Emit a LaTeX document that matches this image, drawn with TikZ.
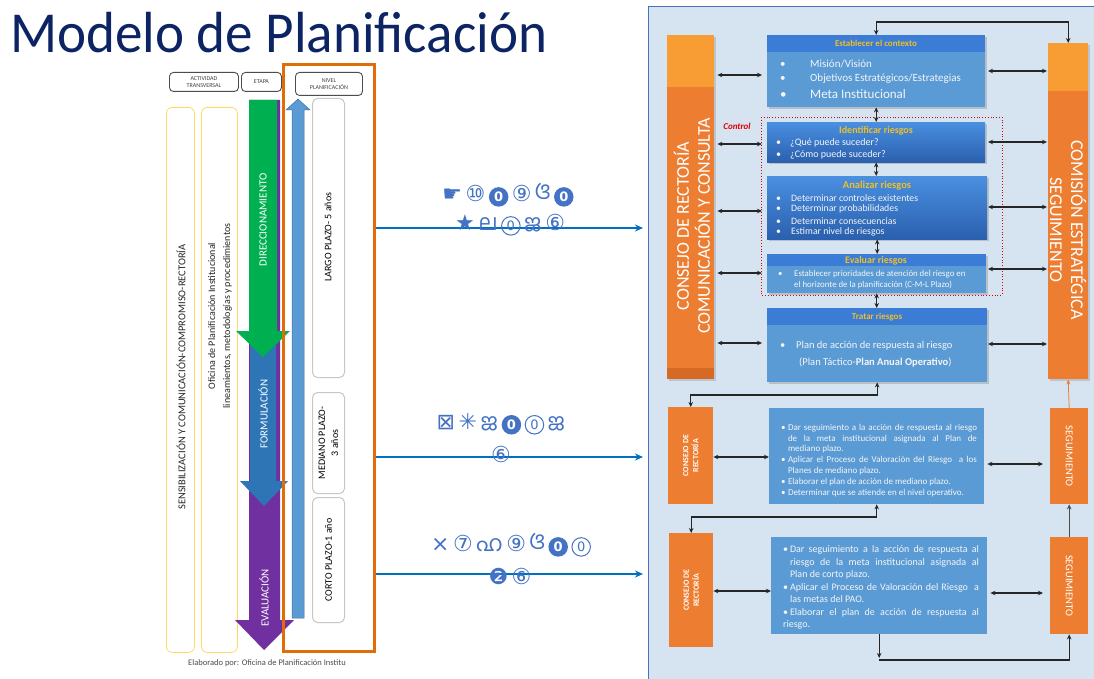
\documentclass[tikz,border=0pt]{standalone}
\usepackage{fontspec}
\setmainfont{Carlito}
\newfontfamily\dejavu{DejaVu Sans}
\newfontfamily\orifont[Script=Oriya]{Noto Sans Oriya UI}
\newfontfamily\malfont[Script=Malayalam]{Hind Kochi}
\usetikzlibrary{arrows.meta,shadows}
\definecolor{navy}{RGB}{12,36,100}
\definecolor{orng}{RGB}{227,108,10}
\definecolor{obar}{RGB}{237,125,49}
\definecolor{obarl}{RGB}{248,156,52}
\definecolor{obard}{RGB}{214,106,36}
\definecolor{panelc}{RGB}{214,227,240}
\definecolor{pborder}{RGB}{68,114,196}
\definecolor{bbody}{RGB}{91,155,213}
\definecolor{bhead}{RGB}{58,124,214}
\definecolor{btop}{RGB}{74,143,224}
\definecolor{bbot}{RGB}{42,96,174}
\definecolor{gold}{RGB}{240,192,40}
\definecolor{grn}{RGB}{0,176,80}
\definecolor{purp}{RGB}{112,48,160}
\definecolor{fblue}{RGB}{46,117,182}
\definecolor{lblue}{RGB}{91,155,213}
\definecolor{arrblue}{RGB}{0,112,192}
\definecolor{ylw}{RGB}{255,217,102}
\definecolor{symc}{RGB}{68,114,196}
\definecolor{txtw}{RGB}{245,245,245}
\newcommand\bitem[1]{\par\noindent\hangindent=7pt\hangafter=1\makebox[7pt][l]{\textbullet}#1}
\newcommand\gp{\hspace{3.5pt}}
\newcommand\czero{\tikz[baseline=(z.base)]\node[circle,draw=symc,line width=1pt,inner sep=0pt,minimum size=18.5pt,text=symc,font=\dejavu\fontsize{13}{13}\selectfont](z){0};}
\newcommand\fzero{\tikz[baseline=(z.base)]\node[circle,fill=symc,inner sep=0pt,minimum size=19.5pt,text=white,font=\dejavu\bfseries\fontsize{13}{13}\selectfont](z){0};}
\tikzset{
  dbl/.style={{Stealth[length=5pt,width=4.5pt]}-{Stealth[length=5pt,width=4.5pt]}, line width=1.1pt, black!85},
  sgl/.style={-{Stealth[length=5pt,width=4.5pt]}, line width=1.1pt, black!85},
  bluearr/.style={-{Stealth[length=8pt,width=7pt]}, line width=1.8pt, arrblue},
  hdrbox/.style={draw=black!70, line width=0.9pt, rounded corners=4pt, fill=white, align=center, font=\fontsize{6}{7}\selectfont, text=black!75, inner sep=0pt, anchor=north west},
  ycol/.style={draw=ylw, line width=0.8pt, rounded corners=6pt, inner sep=0pt, anchor=north west},
  gbox/.style={draw=black!22, line width=1pt, rounded corners=5pt, fill=white, inner sep=0pt, anchor=north west},
  box/.style={inner sep=0pt, anchor=north west, drop shadow={shadow xshift=1.5pt, shadow yshift=-1.5pt, opacity=0.35}},
  obox/.style={fill=obar, inner sep=0pt, anchor=north west},
  ttl/.style={text=gold, font=\bfseries\fontsize{10}{11}\selectfont, inner sep=0pt},
  wt/.style={text=txtw, anchor=west, inner sep=0pt},
  sym/.style={text=symc, font=\fontsize{22}{24}\selectfont, inner sep=0pt},
}
\begin{document}
\begin{tikzpicture}[x=1pt,y=-1pt]
\useasboundingbox (0,0) rectangle (1094,679);
\fill[white] (0,0) rectangle (1094,679);

% title
\node[anchor=base west, text=navy, inner sep=0pt] (title) at (10,53) {\scalebox{0.95}[1]{\fontsize{58}{60}\selectfont Modelo de Planificación}};

% ---------- left part ----------
\node[hdrbox, minimum width=69pt, minimum height=19pt] (hA) at (169,72) {ACTIVIDAD\\TRANSVERSAL};
\node[hdrbox, minimum width=40pt, minimum height=19pt] (hE) at (241,72) {ETAPA};
\node[hdrbox, minimum width=67pt, minimum height=23pt] (hN) at (295,72) {NIVEL\\PLANIFICACIÓN};

\node[ycol, minimum width=28pt, minimum height=545pt] (c1) at (166,107) {};
\node[ycol, minimum width=36pt, minimum height=545pt] (c2) at (201,107) {};
\node[rotate=90, font=\fontsize{10.5}{12}\selectfont, text=black!85, inner sep=0pt] (t1) at (181,377) {SENSIBILIZACIÓN Y COMUNICACIÓN-COMPROMISO-RECTORÍA};
\node[rotate=90, align=center, font=\fontsize{10}{15}\selectfont, text=black!85, inner sep=0pt] (t2) at (220,316) {Oficina de Planificación Institucional\\lineamientos, metodologías y procedimientos};

% stage arrows
\fill[purp] (249,100) -- (280,100) -- (280,620) -- (294,620) -- (264,650) -- (235,620) -- (249,620) -- cycle;
\fill[fblue] (250,340) -- (276,340) -- (276,481) -- (288,481) -- (264,506) -- (240,481) -- (250,481) -- cycle;
\fill[grn] (249,100) -- (277,100) -- (277,331) -- (290,331) -- (263,357) -- (236,331) -- (249,331) -- cycle;
\node[rotate=90, text=white, font=\fontsize{11}{12}\selectfont, inner sep=0pt] (lD) at (263,220) {DIRECCIONAMIENTO};
\node[rotate=90, text=white, font=\fontsize{11}{12}\selectfont, inner sep=0pt] (lF) at (263,414) {FORMULACIÓN};
\node[rotate=90, text=white, font=\fontsize{11}{12}\selectfont, inner sep=0pt] (lE) at (264,598) {EVALUACIÓN};

% up arrow
\filldraw[fill=lblue, draw=lblue!70!black, line width=0.5pt] (292,618) -- (292,110) -- (286,110) -- (298,99) -- (310,110) -- (304,110) -- (304,618) -- cycle;

% level boxes
\node[gbox, minimum width=32pt, minimum height=279pt] (n1) at (312,98) {};
\node[gbox, minimum width=32pt, minimum height=101pt] (n2) at (312,392) {};
\node[gbox, minimum width=32pt, minimum height=125pt] (n3) at (312,497) {};
\node[rotate=90, font=\fontsize{10}{12}\selectfont, inner sep=0pt] (ln1) at (328,237) {LARGO PLAZO- 5 años};
\node[rotate=90, align=center, font=\fontsize{10}{13}\selectfont, inner sep=0pt] (ln2) at (n2.center) {MEDIANO PLAZO-\\3 años};
\node[rotate=90, font=\fontsize{10}{12}\selectfont, inner sep=0pt] (ln3) at (n3.center) {CORTO PLAZO-1 año};

\node[draw=orng, line width=3pt, minimum width=91pt, minimum height=587pt, anchor=north west, inner sep=0pt] (orect) at (282,63) {};

\node[anchor=west, text=black!70, font=\fontsize{8.5}{10}\selectfont, inner sep=0pt] (elab) at (188,663) {Elaborado por: Oficina de Planificación Institu};

% ---------- right panel ----------
\node[draw=pborder, fill=panelc, line width=1pt, minimum width=446pt, minimum height=673pt, anchor=north west, inner sep=0pt] (panel) at (648,6) {};

% blue arrows and symbols
\draw[bluearr, shorten >=5pt] (orect.east |- 0,228) -- (panel.west |- 0,228);
\draw[bluearr, shorten >=5pt] (orect.east |- 0,457) -- (panel.west |- 0,457);
\draw[bluearr, shorten >=5pt] (orect.east |- 0,574) -- (panel.west |- 0,574);
\node[sym] (sA1) at (508,195) {{\dejavu ☛}\gp{\dejavu ⑩}\gp\fzero\gp{\dejavu ⑨}\gp{\orifont ଓ}\gp\fzero};
\node[sym] (sA2) at (510,225) {{\dejavu ★}\gp{\malfont ല}\gp\czero\gp{\malfont ജ}\gp{\dejavu ⑥}};
\node[sym] (sB1) at (501,424) {{\dejavu ⊠}\gp{\dejavu ✳}\gp{\malfont ജ}\gp\fzero\gp\czero\gp{\malfont ജ}};
\node[sym] (sB2) at (501,454) {{\dejavu ⑥}};
\node[sym] (sC1) at (511,545) {{\dejavu ×}\gp{\dejavu ⑦}\gp{\malfont ഹ}\gp{\dejavu ⑨}\gp{\orifont ଓ}\gp\fzero\gp\czero};
\node[sym] (sC2) at (510,576) {{\dejavu ❷}\gp{\dejavu ⑥}};

% orange bars
\node[obox, minimum width=47pt, minimum height=344pt, drop shadow={shadow xshift=1.5pt, shadow yshift=-1.5pt, opacity=0.3}] (lbar) at (667,35) {};
\fill[obarl] (667,35) rectangle (714,87);
\fill[obard] (667,368) rectangle (714,379);
\node[rotate=90, align=center, text=white, font=\fontsize{18}{21}\selectfont, inner sep=0pt] (lbart) at (692,226) {CONSEJO DE RECTORÍA\\COMUNICACIÓN Y CONSULTA};
\node[obox, minimum width=40pt, minimum height=336pt, drop shadow={shadow xshift=1.5pt, shadow yshift=-1.5pt, opacity=0.3}] (rbar) at (1048,43) {};
\fill[obarl] (1048,43) rectangle (1088,91);
\node[rotate=-90, align=center, text=white, font=\fontsize{18}{21}\selectfont, inner sep=0pt] (rbart) at (1068,230) {COMISIÓN ESTRATÉGICA\\SEGUIMIENTO};

% control dotted frame
\draw[red!85!black, dotted, line width=0.8pt] (761,117) rectangle (1002,295);
\node[text=red!90!black, font=\bfseries\itshape\fontsize{9}{10}\selectfont, inner sep=0pt] (ctl) at (737,126) {Control};

% process boxes
\node[box, fill=bbody, minimum width=218pt, minimum height=72pt] (ctx) at (767,35) {};
\fill[bhead] (767,35) rectangle (985,52);
\node[box, top color=btop, bottom color=bbot, minimum width=218pt, minimum height=40pt] (idr) at (767,122) {};
\node[box, top color=btop, bottom color=bbot, minimum width=220pt, minimum height=63pt] (anr) at (767,176) {};
\node[box, fill=bbody, minimum width=219pt, minimum height=39pt] (evr) at (767,254) {};
\fill[bhead] (767,254) rectangle (986,266);
\node[box, fill=bbody, minimum width=220pt, minimum height=74pt] (trr) at (767,308) {};
\fill[bhead] (767,308) rectangle (987,325);

\node[ttl, font=\bfseries\fontsize{9}{10}\selectfont] (ctxt) at (876,43) {Establecer el contexto};
\node[wt, font=\fontsize{11}{12}\selectfont] (ctx1) at (780,64) {\makebox[30pt][l]{\textbullet}Misión/Visión};
\node[wt, font=\fontsize{11}{12}\selectfont] (ctx2) at (780,79) {\makebox[30pt][l]{\textbullet}Objetivos Estratégicos/Estrategias};
\node[wt, font=\fontsize{13}{14}\selectfont] (ctx3) at (780,94) {\makebox[30pt][l]{\textbullet\hspace{-2pt}}Meta Institucional};

\node[ttl] (idrt) at (876,131) {Identificar riesgos};
\node[wt, font=\fontsize{10}{11}\selectfont] (idr1) at (776,143) {\makebox[14pt][l]{\textbullet}¿Qué puede suceder?};
\node[wt, font=\fontsize{10}{11}\selectfont] (idr2) at (776,155) {\makebox[14pt][l]{\textbullet}¿Cómo puede suceder?};

\node[ttl, font=\bfseries\fontsize{10.5}{11}\selectfont] (anrt) at (877,186) {Analizar riesgos};
\node[wt, font=\fontsize{9.8}{11}\selectfont] (anr1) at (776,198) {\makebox[15pt][l]{\textbullet}Determinar controles existentes};
\node[wt, font=\fontsize{9.8}{11}\selectfont] (anr2) at (776,209) {\makebox[15pt][l]{\textbullet}Determinar probabilidades};
\node[wt, font=\fontsize{9.8}{11}\selectfont] (anr3) at (776,221) {\makebox[15pt][l]{\textbullet}Determinar consecuencias};
\node[wt, font=\fontsize{9.8}{11}\selectfont] (anr4) at (776,232) {\makebox[15pt][l]{\textbullet}Estimar nivel de riesgos};

\node[ttl] (evrt) at (876,261) {Evaluar riesgos};
\node[wt, font=\fontsize{8.8}{9}\selectfont] (evr1) at (778,274) {\makebox[16pt][l]{\textbullet}Establecer prioridades de atención del riesgo en};
\node[wt, font=\fontsize{8.8}{9}\selectfont] (evr2) at (794,285) {el horizonte de la planificación (C-M-L Plazo)};

\node[ttl, font=\bfseries\fontsize{9}{10}\selectfont] (trrt) at (877,317) {Tratar riesgos};
\node[wt, font=\fontsize{10.5}{12}\selectfont] (trr1) at (780,346) {\makebox[16pt][l]{\textbullet}Plan de acción de respuesta al riesgo};
\node[wt, font=\fontsize{10.5}{12}\selectfont] (trr2) at (799,362) {(Plan Táctico-\textbf{Plan Anual Operativo})};

% connectors upper
\draw[dbl] (ctx.north) -- ++(0,-13) -| (rbar.north);
\draw[dbl] (ctx.south) -- (ctx.south |- idr.north);
\draw[dbl] (idr.south) -- (idr.south |- anr.north);
\draw[dbl] (anr.south) -- (anr.south |- evr.north);
\draw[dbl] (evr.south) -- (evr.south |- trr.north);
\foreach \yy in {75,144,211,273,343} {
  \draw[dbl, shorten <=3pt] (lbar.east |- 0,\yy) -- (762,\yy);
}
\foreach \yy in {71,142,207,269,344} {
  \draw[dbl, shorten >=1pt] (988,\yy) -- (rbar.west |- 0,\yy);
}

% lower boxes
\node[obox, minimum width=45pt, minimum height=97pt] (cr1) at (668,407) {};
\node[rotate=90, align=center, text=white, font=\bfseries\fontsize{8}{10}\selectfont, inner sep=0pt] (cr1t) at (cr1.center) {CONSEJO DE\\RECTORÍA};
\node[inner sep=0pt, anchor=north west, fill=bbody, minimum width=215pt, minimum height=96pt] (mb1) at (769,408) {};
\node[text=txtw, text width=196pt, align=justify, font=\fontsize{9}{10.8}\selectfont, inner sep=0pt] (mb1t) at (879,458) {%
\bitem{Dar seguimiento a la acción de respuesta al riesgo\linebreak de la meta institucional asignada al Plan de\linebreak mediano plazo.}
\bitem{Aplicar el Proceso de Valoración del Riesgo \ a los\linebreak Planes de mediano plazo.}
\bitem{Elaborar el plan de acción de mediano plazo.}
\bitem{Determinar que se atiende en el nivel operativo.}};
\node[obox, minimum width=38pt, minimum height=96pt] (sg1) at (1050,408) {};
\node[rotate=-90, text=white, font=\fontsize{10.5}{12}\selectfont, inner sep=0pt] (sg1t) at (sg1.center) {SEGUIMIENTO};

\node[obox, minimum width=44pt, minimum height=114pt] (cr2) at (669,533) {};
\node[rotate=90, align=center, text=white, font=\bfseries\fontsize{8}{10}\selectfont, inner sep=0pt] (cr2t) at (cr2.center) {CONSEJO DE\\RECTORÍA};
\node[inner sep=0pt, anchor=north west, fill=bbody, minimum width=216pt, minimum height=97pt] (mb2) at (771,537) {};
\node[text=txtw, text width=196pt, align=justify, font=\fontsize{10}{12.5}\selectfont, inner sep=0pt] (mb2t) at (881,585) {%
\bitem{Dar seguimiento a la acción de respuesta al\linebreak riesgo de la meta institucional asignada al\linebreak Plan de corto plazo.}
\bitem{Aplicar el Proceso de Valoración del Riesgo \ a\linebreak las metas del PAO.}
\bitem{Elaborar el plan de acción de respuesta al\linebreak riesgo.}};
\node[obox, minimum width=38pt, minimum height=97pt] (sg2) at (1050,537) {};
\node[rotate=-90, text=white, font=\fontsize{10.5}{12}\selectfont, inner sep=0pt] (sg2t) at (sg2.center) {SEGUIMIENTO};

% lower connectors
\draw[dbl] (cr1.north) -- (cr1.north |- 0,395) -| (trr.south);
\draw[-{Stealth[length=5pt,width=4pt]}, line width=0.8pt, obar] (sg1.north) -- (rbar.south);
\draw[dbl] (cr1.east |- 0,457) -- (mb1.west |- 0,457);
\draw[dbl, shorten <=3pt, shorten >=7pt] (mb1.east |- 0,464) -- (sg1.west |- 0,464);
\draw[dbl] (cr2.north) -- (cr2.north |- 0,517) -| (mb1.south);
\draw[sgl, black!70] (sg2.north) -- (sg1.south);
\draw[dbl] (cr2.east |- 0,591) -- (mb2.west |- 0,591);
\draw[dbl, shorten <=3pt, shorten >=7pt] (mb2.east |- 0,593) -- (sg2.west |- 0,593);
\draw[sgl] (mb2.south) -- (mb2.south |- 0,658);
\draw[sgl] (mb2.south |- 0,660) -| (sg2.south);
\end{tikzpicture}
\end{document}
